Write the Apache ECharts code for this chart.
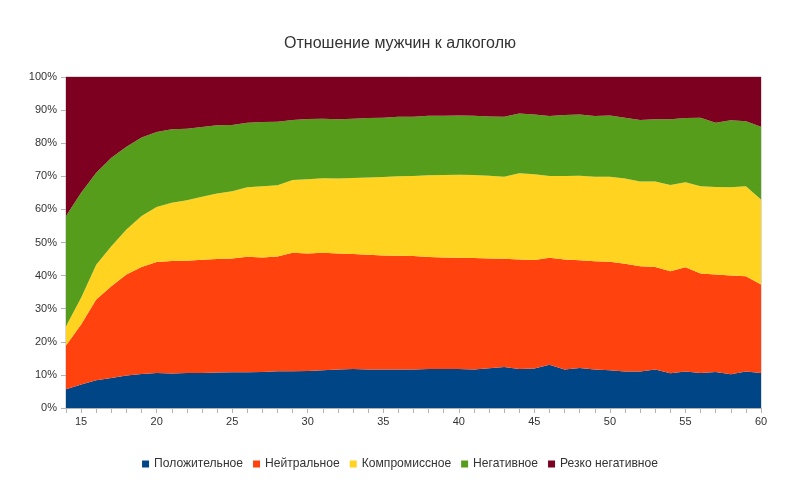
<!DOCTYPE html>
<html>
<head>
<meta charset="utf-8">
<script src="https://cdn.jsdelivr.net/npm/echarts@6/dist/echarts.min.js"></script>
<style>
html,body{margin:0;padding:0;background:#fff;}
#chart{width:800px;height:480px;}
</style>
</head>
<body>
<div id="chart"></div>
<script>
var ages = [14,15,16,17,18,19,20,21,22,23,24,25,26,27,28,29,30,31,32,33,34,35,36,37,38,39,40,41,42,43,44,45,46,47,48,49,50,51,52,53,54,55,56,57,58,59,60];
var seriesNames = ['Положительное','Нейтральное','Компромиссное','Негативное','Резко негативное'];
var positive = [5.7,7.1,8.4,9.1,9.8,10.3,10.6,10.4,10.6,10.6,10.7,10.8,10.8,10.9,11.1,11.1,11.2,11.4,11.6,11.8,11.6,11.6,11.6,11.6,11.8,11.8,11.8,11.6,12.0,12.4,11.8,11.9,13.1,11.6,12.1,11.6,11.4,11.0,11.0,11.6,10.5,11.0,10.6,10.9,10.2,11.0,10.6];
var neutral = [13.2,18.1,24.4,27.7,30.5,32.3,33.5,34.0,33.9,34.2,34.3,34.4,34.9,34.6,34.7,35.8,35.5,35.5,35.1,34.7,34.7,34.5,34.4,34.3,33.8,33.7,33.6,33.7,33.2,32.7,33.1,32.8,32.3,33.3,32.5,32.7,32.8,32.6,31.8,31.0,30.8,31.5,30.0,29.4,29.8,28.8,26.7];
var compromise = [5.8,8.1,10.5,12.1,13.6,15.4,16.6,17.6,18.3,19.0,19.8,20.3,21.0,21.5,21.5,22.0,22.4,22.5,22.6,23.0,23.3,23.7,24.0,24.2,24.7,24.9,25.1,25.1,25.0,24.8,26.0,25.9,24.7,25.2,25.6,25.6,25.7,25.7,25.6,25.8,26.1,25.7,26.4,26.5,26.7,27.2,25.7];
var negative = [33.3,31.7,27.8,26.7,25.0,23.7,22.7,22.2,21.6,21.1,20.6,20.0,19.5,19.4,19.2,18.1,18.2,18.0,17.9,17.9,18.0,17.9,18.0,17.9,18.0,17.9,17.9,17.9,17.9,18.1,18.1,18.1,18.1,18.4,18.5,18.3,18.5,18.4,18.6,18.8,19.8,19.4,20.7,19.4,20.2,19.6,22.0];
var sharplyNegative = [42.0,35.0,28.9,24.4,21.1,18.3,16.6,15.8,15.6,15.1,14.6,14.5,13.8,13.6,13.5,13.0,12.7,12.6,12.8,12.6,12.4,12.3,12.0,12.0,11.7,11.7,11.6,11.7,11.9,12.0,11.0,11.3,11.8,11.5,11.3,11.8,11.6,12.3,13.0,12.8,12.8,12.4,12.3,13.8,13.1,13.4,15.0];
var colors = ['#004586','#ff420e','#ffd320','#579d1c','#7e0021'];
var allData = [positive, neutral, compromise, negative, sharplyNegative];

var chart = echarts.init(document.getElementById('chart'), null, {renderer:'canvas'});
var series = seriesNames.map(function(name, i){
  return {
    name: name,
    type: 'line',
    stack: 'total',
    data: allData[i],
    symbol: 'none',
    showSymbol: false,
    lineStyle: {width: 0},
    areaStyle: {color: colors[i], opacity: 1},
    itemStyle: {color: colors[i]}
  };
});
chart.setOption({
  animation: false,
  textStyle: {fontFamily: 'Liberation Sans, Arial, sans-serif'},
  title: {
    text: 'Отношение мужчин к алкоголю',
    left: 'center',
    top: 31,
    textStyle: {fontSize: 16, fontWeight: 'normal', color: '#333', fontFamily: 'Liberation Sans'}
  },
  legend: {
    top: 453,
    left: 'center',
    itemWidth: 7,
    itemHeight: 7,
    itemGap: 10,
    icon: 'rect',
    textStyle: {fontSize: 12.1, color: '#333', fontFamily: 'Liberation Sans'},
    data: seriesNames
  },
  grid: {
    left: 66, right: 39, top: 77, bottom: 72,
    show: true, borderColor: '#b3b3b3', borderWidth: 1, backgroundColor: 'transparent'
  },
  xAxis: {
    type: 'category',
    data: ages,
    boundaryGap: false,
    axisLine: {show: true, lineStyle: {color: '#b3b3b3'}},
    axisTick: {show: true, interval: 0, length: 5, lineStyle: {color: '#b3b3b3'}},
    axisLabel: {
      interval: function(idx, val){ return Number(val) % 5 === 0; },
      color: '#333', fontSize: 11, margin: 8, fontFamily: 'Liberation Sans'
    },
    splitLine: {show: false}
  },
  yAxis: {
    type: 'value',
    min: 0, max: 100, interval: 10,
    axisLine: {show: true, lineStyle: {color: '#b3b3b3'}},
    axisTick: {show: true, length: 5, lineStyle: {color: '#b3b3b3'}},
    axisLabel: {formatter: '{value}%', color: '#333', fontSize: 11, margin: 9, fontFamily: 'Liberation Sans'},
    splitLine: {show: false}
  },
  series: series
});
</script>
</body>
</html>
